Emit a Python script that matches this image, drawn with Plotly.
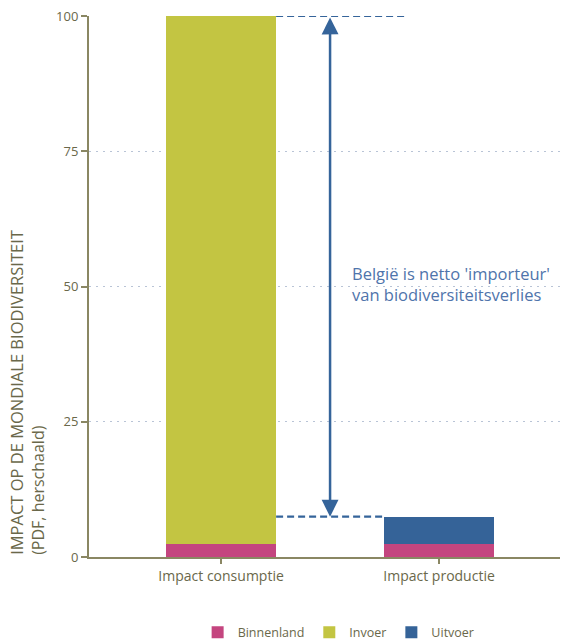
import plotly.graph_objects as go

categories = ["Impact consumptie", "Impact productie"]
binnenland = [2.35, 2.35]
invoer = [97.65, 0]
uitvoer = [0, 5.1]
y_ticks = [0, 25, 50, 75, 100]

bar_width = 0.505
axis_col = "#8a8763"
text_col = "#6a684a"
blue = "#35649a"

fig = go.Figure()
fig.add_trace(go.Bar(name="Binnenland", x=categories, y=binnenland, marker_color="#c4457f",
                     width=bar_width, marker_line_width=0))
fig.add_trace(go.Bar(name="Invoer", x=categories, y=invoer, marker_color="#c3c542",
                     width=bar_width, marker_line_width=0))
fig.add_trace(go.Bar(name="Uitvoer", x=categories, y=uitvoer, marker_color="#356398",
                     width=bar_width, marker_line_width=0))

total_cons = binnenland[0] + invoer[0] + uitvoer[0]
total_prod = binnenland[1] + invoer[1] + uitvoer[1]
half = bar_width / 2

# dashed reference lines
fig.add_shape(type="line", xref="x", yref="y", x0=half, x1=0.853, y0=total_cons, y1=total_cons,
              line=dict(color=blue, width=2.2, dash="7px,4px"))
fig.add_shape(type="line", xref="x", yref="y", x0=half, x1=1 - half, y0=total_prod, y1=total_prod,
              line=dict(color=blue, width=2.2, dash="7px,4px"))

# double arrow
fig.add_annotation(x=0.5, y=total_prod, ax=0.5, ay=total_cons, xref="x", yref="y",
                   axref="x", ayref="y", text="", showarrow=True, arrowhead=2,
                   arrowside="end+start", arrowsize=1.35, arrowwidth=2.5, arrowcolor=blue,
                   standoff=0, startstandoff=0)

fig.add_annotation(x=0.59, y=50.5, xref="x", yref="y", xanchor="left", yanchor="middle",
                   text="België is netto 'importeur'<br>van biodiversiteitsverlies",
                   showarrow=False, align="left",
                   font=dict(family="Open Sans", size=16.5, color="#4f74ab"))

# y title
fig.add_annotation(x=-0.133, y=0, xref="paper", yref="paper", xanchor="center", yanchor="bottom",
                   textangle=-90, showarrow=False, align="left",
                   text="<span style='font-size:16.5px'>IMPACT OP DE MONDIALE BIODIVERSITEIT</span><br>"
                        "<span style='font-size:16px'>(PDF, herschaald)</span>",
                   font=dict(family="Open Sans", size=16, color=text_col))

fig.update_layout(
    barmode="stack",
    width=561, height=644,
    margin=dict(l=89, r=1, t=16, b=87, autoexpand=False),
    plot_bgcolor="white", paper_bgcolor="white",
    font=dict(family="Open Sans", size=12, color=text_col),
    showlegend=True,
    legend=dict(orientation="h", x=0.53, xanchor="center", y=-0.14, yanchor="middle",
                font=dict(size=12.5, color=text_col), traceorder="normal", itemwidth=30),
    bargap=0,
)
fig.update_xaxes(range=[-0.606, 1.555], showline=True, linecolor=axis_col, linewidth=2,
                 ticks="outside", ticklen=5, tickwidth=2, tickcolor=axis_col,
                 showgrid=False, tickfont=dict(size=14, color=text_col), automargin=False)
fig.update_yaxes(range=[0, 100], tickvals=y_ticks, showline=True, linecolor=axis_col, linewidth=2,
                 ticks="outside", ticklen=6, tickwidth=2, tickcolor=axis_col,
                 showgrid=True, gridcolor="#b9c4d6", griddash="2px,5px", gridwidth=1.3,
                 zeroline=False, tickfont=dict(size=13, color=text_col), automargin=False)

fig.write_html("out.html", config={"displayModeBar": False},
               post_script="document.body.style.margin='0';")
